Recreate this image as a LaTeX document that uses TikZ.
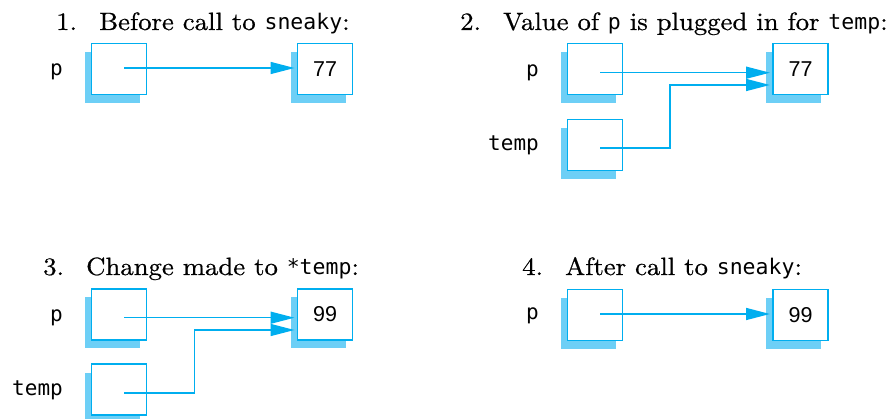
\documentclass[tikz,border=0pt]{standalone}
\usepackage{fontspec}
\setmonofont{DejaVu Sans Mono}
\newfontfamily\numfont{Liberation Sans}
\newfontfamily\titlefont{lmroman10-regular.otf}[FakeStretch=1.07,FakeBold=0.6]
\usetikzlibrary{arrows.meta,shadows,calc}
\definecolor{boxline}{HTML}{00AEEF}
\definecolor{shade}{HTML}{6DCFF6}
\tikzset{
  membox/.style={draw=boxline, line width=1.5pt, fill=white, minimum width=55pt, minimum height=51pt, inner sep=0pt, outer sep=0pt,
     general shadow={shadow xshift=-7pt, shadow yshift=-8.5pt, fill=shade}, font=\numfont\fontsize{21.5}{24}\selectfont},
  varlabel/.style={anchor=base east, inner sep=0pt, font=\ttfamily\fontsize{21}{24}\selectfont},
  title/.style={anchor=base west, inner sep=0pt, font=\titlefont\fontsize{25}{28}\selectfont},
  ptr/.style={draw=boxline, line width=1.5pt, -{Triangle[length=24pt,width=12pt]}, shorten >=3pt},
}
\newcommand{\numlab}[1]{\makebox[43pt][l]{#1}}
\newcommand{\mono}[1]{{\ttfamily\fontsize{21.5}{24}\selectfont #1}}
\begin{document}
\begin{tikzpicture}[x=1pt,y=-1pt]
\useasboundingbox (0,0) rectangle (891,419);
% Panel 1
\node[title] (t1) at (56,30) {\numlab{1.}Before call to \mono{sneaky}:};
\node[membox] (p1) at (119,69) {};
\node[membox] (v1) at (325,69) {77};
\node[varlabel] (lp1) at (63,76) {p};
\coordinate (s1) at (124,68);
\draw[ptr] (s1) -- (s1 -| v1.west);
% Panel 2
\node[title] (t2) at (460,30) {\numlab{2.}Value of \mono{p} is plugged in for \mono{temp}:};
\node[membox] (p2) at (595,69) {};
\node[membox] (tb2) at (595,145) {};
\node[membox] (v2) at (800.5,69) {77};
\node[varlabel] (lp2) at (539,77) {p};
\node[varlabel] (lt2) at (539,151) {temp};
\coordinate (s2) at (600,72.7);
\coordinate (s2t) at (600,148);
\coordinate (k2) at (670,85);
\draw[ptr] (s2) -- (s2 -| v2.west);
\draw[ptr] (s2t) -| (k2) -- (k2 -| v2.west);
% Panel 3
\node[title] (t3) at (43,275) {\numlab{3.}Change made to \mono{*temp}:};
\node[membox] (p3) at (119,314.5) {};
\node[membox] (tb3) at (119,389.7) {};
\node[membox] (v3) at (325,314.5) {99};
\node[varlabel] (lp3) at (63,321.7) {p};
\node[varlabel] (lt3) at (63,395.7) {temp};
\coordinate (s3) at (124,317.7);
\coordinate (s3t) at (124,393);
\coordinate (k3) at (194.3,330);
\draw[ptr] (s3) -- (s3 -| v3.west);
\draw[ptr] (s3t) -| (k3) -- (k3 -| v3.west);
% Panel 4
\node[title] (t4) at (522,275) {\numlab{4.}After call to \mono{sneaky}:};
\node[membox] (p4) at (595,315) {};
\node[membox] (v4) at (800.5,315) {99};
\node[varlabel] (lp4) at (539,320) {p};
\coordinate (s4) at (600,314);
\draw[ptr] (s4) -- (s4 -| v4.west);
\end{tikzpicture}
\end{document}
